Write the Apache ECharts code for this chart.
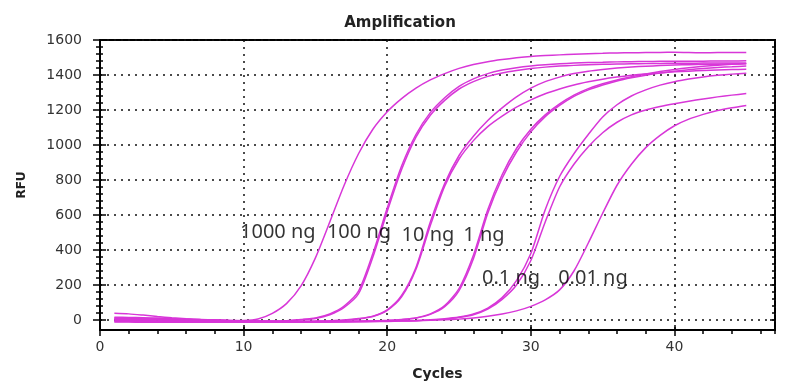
<!DOCTYPE html>
<html>
<head>
<meta charset="utf-8">
<script src="https://cdn.jsdelivr.net/npm/echarts@6/dist/echarts.min.js"></script>
<style>html,body{margin:0;padding:0;background:#fff;}#c{width:800px;height:392px;}</style>
</head>
<body>
<div id="c"></div>
<script>
const cycles = [1,2,3,4,5,6,7,8,9,10,11,12,13,14,15,16,17,18,19,20,21,22,23,24,25,26,27,28,29,30,31,32,33,34,35,36,37,38,39,40,41,42,43,44,45];

const rfu1000ng = [38,35,28,20,13,7,3,-1,-4,-3,6,38,95,195,355,560,770,950,1090,1190,1265,1325,1372,1408,1438,1460,1476,1488,1498,1506,1511,1515,1519,1522,1524,1526,1527,1528,1529,1530,1528,1527,1528,1529,1529];
const rfu100ngA = [16,15,13,11,8,6,3,1,-2,-4,-5,-6,-4,3,12,35,80,165,380,640,880,1060,1185,1270,1335,1378,1408,1428,1442,1452,1459,1464,1468,1471,1473,1475,1476,1477,1478,1478,1479,1479,1480,1480,1481];
const rfu100ngB = [8,8,7,5,3,1,-1,-3,-5,-6,-7,-7,-5,1,9,30,72,150,360,620,860,1045,1170,1255,1320,1362,1392,1412,1426,1437,1445,1451,1455,1458,1461,1463,1464,1465,1466,1467,1467,1468,1468,1469,1469];
const rfu10ngA = [12,11,9,7,5,3,1,-1,-3,-5,-6,-7,-7,-7,-6,-4,0,8,22,58,140,300,560,780,940,1050,1140,1212,1275,1325,1362,1388,1408,1422,1432,1440,1446,1450,1454,1457,1459,1461,1462,1463,1464];
const rfu10ngB = [3,3,2,1,0,-2,-3,-5,-6,-7,-8,-9,-9,-9,-8,-6,-2,6,20,55,132,290,540,765,920,1025,1105,1165,1216,1258,1293,1320,1343,1361,1376,1388,1398,1406,1412,1418,1422,1426,1429,1431,1433];
const rfu1ngA = [-2,-3,-4,-5,-6,-7,-8,-9,-10,-10,-11,-11,-11,-11,-10,-10,-9,-8,-6,-3,2,12,35,82,180,370,630,830,980,1090,1172,1235,1285,1322,1350,1372,1390,1406,1420,1432,1442,1450,1456,1461,1465];
const rfu1ngB = [5,4,2,0,-2,-4,-5,-7,-8,-9,-9,-10,-10,-10,-9,-9,-8,-7,-5,-2,3,11,32,76,168,350,610,810,960,1075,1162,1226,1278,1315,1343,1366,1384,1399,1411,1421,1430,1437,1443,1447,1451];
const rfu01ngA = [-8,-9,-10,-10,-11,-11,-12,-12,-12,-12,-12,-12,-12,-11,-11,-10,-10,-9,-8,-7,-5,-3,1,7,17,34,68,128,225,380,630,820,950,1060,1160,1230,1280,1315,1342,1362,1377,1389,1398,1405,1410];
const rfu01ngB = [-12,-12,-13,-13,-13,-13,-13,-13,-13,-13,-13,-12,-12,-12,-11,-11,-10,-10,-9,-8,-6,-4,0,5,14,30,62,118,200,340,560,760,890,990,1070,1130,1172,1200,1220,1236,1250,1263,1275,1285,1294];
const rfu001ng = [-6,-7,-8,-8,-9,-9,-10,-10,-10,-10,-10,-10,-9,-9,-9,-8,-8,-7,-7,-6,-5,-4,-2,1,5,11,21,34,52,78,115,172,280,440,610,770,890,985,1055,1110,1148,1175,1197,1213,1226];

const curveList = [rfu1000ng, rfu100ngA, rfu100ngB, rfu10ngA, rfu10ngB, rfu1ngA, rfu1ngB, rfu01ngA, rfu01ngB, rfu001ng];

const noteTexts = ['1000 ng', '100 ng', '10 ng', '1 ng', '0.1 ng', '0.01 ng'];
const noteCycles = [9.75, 15.8, 21.0, 25.3, 26.6, 31.9];
const noteRfu = [500, 500, 483, 483, 237, 237];

const yTicks = [0, 1600, 200];   // min, max, step
const xTicks = [0, 47, 10];

const chart = echarts.init(document.getElementById('c'), null, {renderer: 'canvas'});

const dotted = {type: [2, 5], color: '#111', width: 1.5};
const tickFont = {fontFamily: 'DejaVu Sans', fontSize: 14, color: '#333'};

const series = curveList.map(arr => ({
  type: 'line',
  xAxisIndex: 3, yAxisIndex: 1,
  data: cycles.map((c, i) => [c, arr[i]]),
  showSymbol: false,
  symbol: 'none',
  smooth: 0.25,
  clip: false,
  lineStyle: {color: '#d836d8', width: 1.5},
  z: 3
}));

series.push({
  type: 'scatter',
  xAxisIndex: 3, yAxisIndex: 1,
  symbolSize: 0,
  data: noteTexts.map((t, i) => ({name: t, value: [noteCycles[i], noteRfu[i]]})),
  label: {
    show: true, position: 'right', distance: 0,
    formatter: p => p.name,
    fontFamily: 'Noto Sans', fontSize: 20, color: '#000',
    textBorderWidth: 0,
    align: 'left', verticalAlign: 'middle'
  },
  z: 5
});

const option = {
  animation: false,
  backgroundColor: '#fff',
  title: {
    text: 'Amplification', left: 'center', top: 11,
    textStyle: {fontFamily: 'DejaVu Sans', fontSize: 15, fontWeight: 'bold', color: '#222'}
  },
  grid: [
    {left: 100, right: 25, top: 40, bottom: 62, show: true, borderColor: '#000', borderWidth: 2, backgroundColor: '#fff'},
    {left: 100, right: 25, top: 40, bottom: 72}
  ],
  xAxis: [
    {gridIndex: 0, type: 'value', min: xTicks[0], max: xTicks[1], interval: xTicks[2], position: 'bottom',
     axisLine: {show: true, onZero: false, lineStyle: {color: '#000', width: 2}},
     axisTick: {show: true, length: 6, lineStyle: {color: '#000', width: 1.5}},
     axisLabel: Object.assign({margin: 10, showMaxLabel: false, formatter: v => String(v)}, tickFont),
     splitLine: {show: true, lineStyle: dotted},
     name: 'Cycles', nameLocation: 'middle', nameGap: 37,
     nameTextStyle: {fontFamily: 'DejaVu Sans', fontSize: 14, fontWeight: 'bold', color: '#222'}},
    {gridIndex: 0, type: 'value', min: xTicks[0], max: xTicks[1], interval: 2, position: 'bottom',
     axisLine: {show: false, onZero: false},
     axisTick: {show: true, length: 4, lineStyle: {color: '#000', width: 1.5}},
     axisLabel: {show: false}, splitLine: {show: false}},
    {gridIndex: 0, type: 'value', min: xTicks[0], max: xTicks[1], interval: xTicks[2], position: 'bottom',
     axisLine: {show: false, onZero: false},
     axisTick: {show: true, inside: true, length: 5, lineStyle: {color: '#000', width: 1.5}},
     axisLabel: {show: false}, splitLine: {show: false}},
    {gridIndex: 1, type: 'value', min: xTicks[0], max: xTicks[1], show: false}
  ],
  yAxis: [
    {gridIndex: 0, type: 'value', min: -57.14, max: yTicks[1], position: 'left',
     axisLine: {show: true, onZero: false, lineStyle: {color: '#000', width: 2}},
     axisTick: {show: false}, axisLabel: {show: false}, splitLine: {show: false},
     name: 'RFU', nameLocation: 'middle', nameGap: 72,
     nameTextStyle: {fontFamily: 'DejaVu Sans', fontSize: 12, fontWeight: 'bold', color: '#222'}},
    {gridIndex: 1, type: 'value', min: yTicks[0], max: yTicks[1], interval: yTicks[2], position: 'left',
     axisLine: {show: false, onZero: false},
     axisTick: {show: true, length: 7, lineStyle: {color: '#000', width: 1.5}},
     minorTick: {show: true, splitNumber: 5, length: 4, lineStyle: {color: '#000', width: 1.5}},
     axisLabel: Object.assign({margin: 18, formatter: v => String(v)}, tickFont),
     splitLine: {show: true, lineStyle: dotted}},
    {gridIndex: 1, type: 'value', min: yTicks[0], max: yTicks[1], interval: yTicks[2], position: 'left',
     axisLine: {show: false, onZero: false},
     axisTick: {show: true, inside: true, length: 6, lineStyle: {color: '#000', width: 1.5}},
     minorTick: {show: true, splitNumber: 5, length: 3, lineStyle: {color: '#000', width: 1.5}},
     axisLabel: {show: false}, splitLine: {show: false}},
    {gridIndex: 1, type: 'value', min: yTicks[0], max: yTicks[1], interval: yTicks[2], position: 'right',
     axisLine: {show: false, onZero: false},
     axisTick: {show: true, inside: true, length: 5, lineStyle: {color: '#000', width: 1.5}},
     minorTick: {show: true, splitNumber: 5, length: 3, lineStyle: {color: '#000', width: 1.5}},
     axisLabel: {show: false}, splitLine: {show: false}}
  ],
  series: series
};

chart.setOption(option);
</script>
</body>
</html>
